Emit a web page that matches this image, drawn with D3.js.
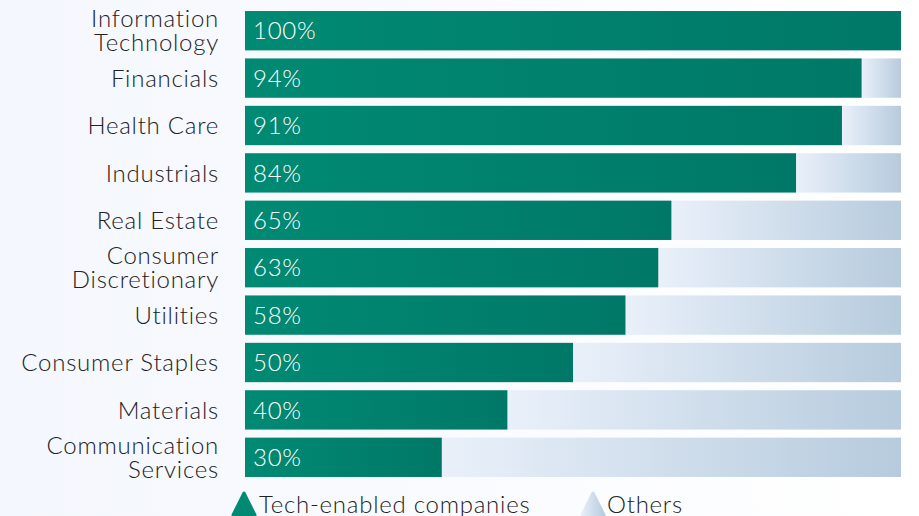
<!DOCTYPE html>
<html><head><meta charset="utf-8">
<script src="https://cdn.jsdelivr.net/npm/d3@7"></script>
<style>html,body{margin:0;padding:0;}svg{display:block;}</style>
</head><body>
<svg id="c" width="919" height="516"></svg>
<script>
const categories = ["Information Technology","Financials","Health Care","Industrials","Real Estate","Consumer Discretionary","Utilities","Consumer Staples","Materials","Communication Services"];
const labelLines = [["Information","Technology"],["Financials"],["Health Care"],["Industrials"],["Real Estate"],["Consumer","Discretionary"],["Utilities"],["Consumer Staples"],["Materials"],["Communication","Services"]];
const techValues = [100,94,91,84,65,63,58,50,40,30];
const legendLabels = ["Tech-enabled companies","Others"];

const svg = d3.select("#c");
const W = 919, H = 516;
const font = "Lato, sans-serif";
const FS = 24, LS = 0.75, FW = 300;
const defs = svg.append("defs");
const bg = defs.append("linearGradient").attr("id","bg");
bg.append("stop").attr("offset","0").attr("stop-color","#f4f7fd");
bg.append("stop").attr("offset","1").attr("stop-color","#ffffff");
const gg = defs.append("linearGradient").attr("id","gg");
gg.append("stop").attr("offset","0").attr("stop-color","#008a73");
gg.append("stop").attr("offset","1").attr("stop-color","#007868");
const og = defs.append("linearGradient").attr("id","og");
og.append("stop").attr("offset","0").attr("stop-color","#e9f0fa");
og.append("stop").attr("offset","1").attr("stop-color","#b6cbdd");
const lg = defs.append("linearGradient").attr("id","lg").attr("x1","0").attr("y1","0").attr("x2","1").attr("y2","0");
lg.append("stop").attr("offset","0").attr("stop-color","#e6eef8");
lg.append("stop").attr("offset","1").attr("stop-color","#b8ccde");

svg.append("rect").attr("width",W).attr("height",H).attr("fill","url(#bg)");

const x = d3.scaleLinear().domain([0,100]).range([245,901]);
const y = d3.scaleBand().domain(categories).range([7,481]).paddingInner(0.17).paddingOuter(0.085);

function styleText(sel){
  return sel.attr("font-family",font).attr("font-size",FS).attr("font-weight",FW).attr("letter-spacing",LS);
}

const g = svg.append("g");
categories.forEach((c,i)=>{
  const v = techValues[i];
  const yy = y(c), bh = y.bandwidth();
  if (v < 100) {
    g.append("rect").attr("x",x(v)).attr("y",yy).attr("width",x(100)-x(v)).attr("height",bh).attr("fill","url(#og)");
  }
  g.append("rect").attr("x",x(0)).attr("y",yy).attr("width",x(v)-x(0)).attr("height",bh).attr("fill","url(#gg)");
  styleText(g.append("text").attr("x",x(0)+8).attr("y",yy+bh/2).attr("dy","0.36em").attr("fill","#fff")).text(v+"%");
  const lines = labelLines[i];
  const t = styleText(g.append("text").attr("text-anchor","end").attr("fill","#222"));
  lines.forEach((l,k)=>{
    const off = (k-(lines.length-1)/2)*24;
    t.append("tspan").attr("x",219).attr("y",yy+bh/2+off).attr("dy","0.36em").text(l);
  });
});

// legend
function tri(x0){
  const p = d3.path();
  p.moveTo(x0+12,493); p.lineTo(x0+23,515); p.lineTo(x0+1,515); p.closePath();
  return p.toString();
}
svg.append("path").attr("d",tri(232)).attr("fill","#008a73").attr("stroke","#008a73").attr("stroke-width",3).attr("stroke-linejoin","round");
styleText(svg.append("text").attr("x",259).attr("y",513).attr("fill","#222")).text(legendLabels[0]);
svg.append("path").attr("d",tri(581)).attr("fill","url(#lg)").attr("stroke","url(#lg)").attr("stroke-width",3).attr("stroke-linejoin","round");
styleText(svg.append("text").attr("x",607).attr("y",513).attr("fill","#222")).text(legendLabels[1]);
</script>
</body></html>
